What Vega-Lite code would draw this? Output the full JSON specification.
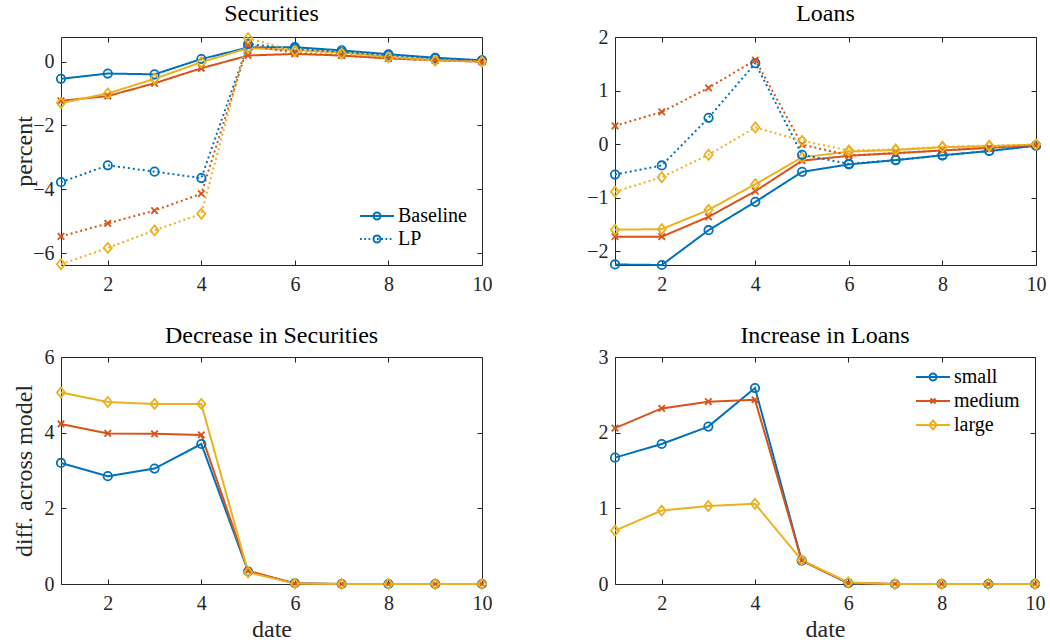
{
"$schema": "https://vega.github.io/schema/vega-lite/v6.json",
"background": "white",
"padding": {"left": 11, "top": 1, "right": 5, "bottom": 2},
"bounds": "flush",
"columns": 2,
"spacing": {"row": 92, "column": 133},
"data": {"values": [
{"p":"sec","m":"Baseline","s":"small","d":1,"v":-0.54},{"p":"sec","m":"Baseline","s":"small","d":2,"v":-0.375},{"p":"sec","m":"Baseline","s":"small","d":3,"v":-0.40},{"p":"sec","m":"Baseline","s":"small","d":4,"v":0.08},{"p":"sec","m":"Baseline","s":"small","d":5,"v":0.44},{"p":"sec","m":"Baseline","s":"small","d":6,"v":0.45},{"p":"sec","m":"Baseline","s":"small","d":7,"v":0.35},{"p":"sec","m":"Baseline","s":"small","d":8,"v":0.23},{"p":"sec","m":"Baseline","s":"small","d":9,"v":0.12},{"p":"sec","m":"Baseline","s":"small","d":10,"v":0.04},
{"p":"sec","m":"Baseline","s":"medium","d":1,"v":-1.23},{"p":"sec","m":"Baseline","s":"medium","d":2,"v":-1.08},{"p":"sec","m":"Baseline","s":"medium","d":3,"v":-0.68},{"p":"sec","m":"Baseline","s":"medium","d":4,"v":-0.21},{"p":"sec","m":"Baseline","s":"medium","d":5,"v":0.19},{"p":"sec","m":"Baseline","s":"medium","d":6,"v":0.24},{"p":"sec","m":"Baseline","s":"medium","d":7,"v":0.19},{"p":"sec","m":"Baseline","s":"medium","d":8,"v":0.10},{"p":"sec","m":"Baseline","s":"medium","d":9,"v":0.04},{"p":"sec","m":"Baseline","s":"medium","d":10,"v":0.0},
{"p":"sec","m":"Baseline","s":"large","d":1,"v":-1.30},{"p":"sec","m":"Baseline","s":"large","d":2,"v":-1.00},{"p":"sec","m":"Baseline","s":"large","d":3,"v":-0.54},{"p":"sec","m":"Baseline","s":"large","d":4,"v":-0.02},{"p":"sec","m":"Baseline","s":"large","d":5,"v":0.42},{"p":"sec","m":"Baseline","s":"large","d":6,"v":0.36},{"p":"sec","m":"Baseline","s":"large","d":7,"v":0.29},{"p":"sec","m":"Baseline","s":"large","d":8,"v":0.15},{"p":"sec","m":"Baseline","s":"large","d":9,"v":0.04},{"p":"sec","m":"Baseline","s":"large","d":10,"v":0.0},
{"p":"sec","m":"LP","s":"small","d":1,"v":-3.78},{"p":"sec","m":"LP","s":"small","d":2,"v":-3.25},{"p":"sec","m":"LP","s":"small","d":3,"v":-3.45},{"p":"sec","m":"LP","s":"small","d":4,"v":-3.65},{"p":"sec","m":"LP","s":"small","d":5,"v":0.55},{"p":"sec","m":"LP","s":"small","d":6,"v":0.40},{"p":"sec","m":"LP","s":"small","d":7,"v":0.30},{"p":"sec","m":"LP","s":"small","d":8,"v":0.20},{"p":"sec","m":"LP","s":"small","d":9,"v":0.10},{"p":"sec","m":"LP","s":"small","d":10,"v":0.03},
{"p":"sec","m":"LP","s":"medium","d":1,"v":-5.48},{"p":"sec","m":"LP","s":"medium","d":2,"v":-5.07},{"p":"sec","m":"LP","s":"medium","d":3,"v":-4.67},{"p":"sec","m":"LP","s":"medium","d":4,"v":-4.14},{"p":"sec","m":"LP","s":"medium","d":5,"v":0.52},{"p":"sec","m":"LP","s":"medium","d":6,"v":0.27},{"p":"sec","m":"LP","s":"medium","d":7,"v":0.19},{"p":"sec","m":"LP","s":"medium","d":8,"v":0.10},{"p":"sec","m":"LP","s":"medium","d":9,"v":0.04},{"p":"sec","m":"LP","s":"medium","d":10,"v":0.0},
{"p":"sec","m":"LP","s":"large","d":1,"v":-6.35},{"p":"sec","m":"LP","s":"large","d":2,"v":-5.84},{"p":"sec","m":"LP","s":"large","d":3,"v":-5.29},{"p":"sec","m":"LP","s":"large","d":4,"v":-4.77},{"p":"sec","m":"LP","s":"large","d":5,"v":0.73},{"p":"sec","m":"LP","s":"large","d":6,"v":0.33},{"p":"sec","m":"LP","s":"large","d":7,"v":0.25},{"p":"sec","m":"LP","s":"large","d":8,"v":0.13},{"p":"sec","m":"LP","s":"large","d":9,"v":0.03},{"p":"sec","m":"LP","s":"large","d":10,"v":0.0},
{"p":"loan","m":"Baseline","s":"small","d":1,"v":-2.25},{"p":"loan","m":"Baseline","s":"small","d":2,"v":-2.26},{"p":"loan","m":"Baseline","s":"small","d":3,"v":-1.61},{"p":"loan","m":"Baseline","s":"small","d":4,"v":-1.08},{"p":"loan","m":"Baseline","s":"small","d":5,"v":-0.52},{"p":"loan","m":"Baseline","s":"small","d":6,"v":-0.38},{"p":"loan","m":"Baseline","s":"small","d":7,"v":-0.30},{"p":"loan","m":"Baseline","s":"small","d":8,"v":-0.21},{"p":"loan","m":"Baseline","s":"small","d":9,"v":-0.13},{"p":"loan","m":"Baseline","s":"small","d":10,"v":-0.03},
{"p":"loan","m":"Baseline","s":"medium","d":1,"v":-1.73},{"p":"loan","m":"Baseline","s":"medium","d":2,"v":-1.73},{"p":"loan","m":"Baseline","s":"medium","d":3,"v":-1.36},{"p":"loan","m":"Baseline","s":"medium","d":4,"v":-0.88},{"p":"loan","m":"Baseline","s":"medium","d":5,"v":-0.31},{"p":"loan","m":"Baseline","s":"medium","d":6,"v":-0.22},{"p":"loan","m":"Baseline","s":"medium","d":7,"v":-0.17},{"p":"loan","m":"Baseline","s":"medium","d":8,"v":-0.12},{"p":"loan","m":"Baseline","s":"medium","d":9,"v":-0.07},{"p":"loan","m":"Baseline","s":"medium","d":10,"v":-0.02},
{"p":"loan","m":"Baseline","s":"large","d":1,"v":-1.60},{"p":"loan","m":"Baseline","s":"large","d":2,"v":-1.59},{"p":"loan","m":"Baseline","s":"large","d":3,"v":-1.23},{"p":"loan","m":"Baseline","s":"large","d":4,"v":-0.75},{"p":"loan","m":"Baseline","s":"large","d":5,"v":-0.25},{"p":"loan","m":"Baseline","s":"large","d":6,"v":-0.14},{"p":"loan","m":"Baseline","s":"large","d":7,"v":-0.11},{"p":"loan","m":"Baseline","s":"large","d":8,"v":-0.06},{"p":"loan","m":"Baseline","s":"large","d":9,"v":-0.04},{"p":"loan","m":"Baseline","s":"large","d":10,"v":-0.01},
{"p":"loan","m":"LP","s":"small","d":1,"v":-0.57},{"p":"loan","m":"LP","s":"small","d":2,"v":-0.40},{"p":"loan","m":"LP","s":"small","d":3,"v":0.49},{"p":"loan","m":"LP","s":"small","d":4,"v":1.51},{"p":"loan","m":"LP","s":"small","d":5,"v":-0.20},{"p":"loan","m":"LP","s":"small","d":6,"v":-0.37},{"p":"loan","m":"LP","s":"small","d":7,"v":-0.30},{"p":"loan","m":"LP","s":"small","d":8,"v":-0.21},{"p":"loan","m":"LP","s":"small","d":9,"v":-0.13},{"p":"loan","m":"LP","s":"small","d":10,"v":-0.03},
{"p":"loan","m":"LP","s":"medium","d":1,"v":0.34},{"p":"loan","m":"LP","s":"medium","d":2,"v":0.60},{"p":"loan","m":"LP","s":"medium","d":3,"v":1.05},{"p":"loan","m":"LP","s":"medium","d":4,"v":1.57},{"p":"loan","m":"LP","s":"medium","d":5,"v":-0.01},{"p":"loan","m":"LP","s":"medium","d":6,"v":-0.21},{"p":"loan","m":"LP","s":"medium","d":7,"v":-0.17},{"p":"loan","m":"LP","s":"medium","d":8,"v":-0.12},{"p":"loan","m":"LP","s":"medium","d":9,"v":-0.07},{"p":"loan","m":"LP","s":"medium","d":10,"v":-0.02},
{"p":"loan","m":"LP","s":"large","d":1,"v":-0.89},{"p":"loan","m":"LP","s":"large","d":2,"v":-0.62},{"p":"loan","m":"LP","s":"large","d":3,"v":-0.20},{"p":"loan","m":"LP","s":"large","d":4,"v":0.31},{"p":"loan","m":"LP","s":"large","d":5,"v":0.06},{"p":"loan","m":"LP","s":"large","d":6,"v":-0.12},{"p":"loan","m":"LP","s":"large","d":7,"v":-0.10},{"p":"loan","m":"LP","s":"large","d":8,"v":-0.05},{"p":"loan","m":"LP","s":"large","d":9,"v":-0.03},{"p":"loan","m":"LP","s":"large","d":10,"v":-0.01},
{"p":"dsec","m":"D","s":"small","d":1,"v":3.20},{"p":"dsec","m":"D","s":"small","d":2,"v":2.85},{"p":"dsec","m":"D","s":"small","d":3,"v":3.05},{"p":"dsec","m":"D","s":"small","d":4,"v":3.70},{"p":"dsec","m":"D","s":"small","d":5,"v":0.33},{"p":"dsec","m":"D","s":"small","d":6,"v":0.02},{"p":"dsec","m":"D","s":"small","d":7,"v":0},{"p":"dsec","m":"D","s":"small","d":8,"v":0},{"p":"dsec","m":"D","s":"small","d":9,"v":0},{"p":"dsec","m":"D","s":"small","d":10,"v":0},
{"p":"dsec","m":"D","s":"medium","d":1,"v":4.23},{"p":"dsec","m":"D","s":"medium","d":2,"v":3.98},{"p":"dsec","m":"D","s":"medium","d":3,"v":3.97},{"p":"dsec","m":"D","s":"medium","d":4,"v":3.94},{"p":"dsec","m":"D","s":"medium","d":5,"v":0.35},{"p":"dsec","m":"D","s":"medium","d":6,"v":0.01},{"p":"dsec","m":"D","s":"medium","d":7,"v":0},{"p":"dsec","m":"D","s":"medium","d":8,"v":0},{"p":"dsec","m":"D","s":"medium","d":9,"v":0},{"p":"dsec","m":"D","s":"medium","d":10,"v":0},
{"p":"dsec","m":"D","s":"large","d":1,"v":5.06},{"p":"dsec","m":"D","s":"large","d":2,"v":4.81},{"p":"dsec","m":"D","s":"large","d":3,"v":4.76},{"p":"dsec","m":"D","s":"large","d":4,"v":4.76},{"p":"dsec","m":"D","s":"large","d":5,"v":0.31},{"p":"dsec","m":"D","s":"large","d":6,"v":0.01},{"p":"dsec","m":"D","s":"large","d":7,"v":0},{"p":"dsec","m":"D","s":"large","d":8,"v":0},{"p":"dsec","m":"D","s":"large","d":9,"v":0},{"p":"dsec","m":"D","s":"large","d":10,"v":0},
{"p":"iloan","m":"D","s":"small","d":1,"v":1.67},{"p":"iloan","m":"D","s":"small","d":2,"v":1.85},{"p":"iloan","m":"D","s":"small","d":3,"v":2.08},{"p":"iloan","m":"D","s":"small","d":4,"v":2.59},{"p":"iloan","m":"D","s":"small","d":5,"v":0.31},{"p":"iloan","m":"D","s":"small","d":6,"v":0.01},{"p":"iloan","m":"D","s":"small","d":7,"v":0},{"p":"iloan","m":"D","s":"small","d":8,"v":0},{"p":"iloan","m":"D","s":"small","d":9,"v":0},{"p":"iloan","m":"D","s":"small","d":10,"v":0},
{"p":"iloan","m":"D","s":"medium","d":1,"v":2.06},{"p":"iloan","m":"D","s":"medium","d":2,"v":2.32},{"p":"iloan","m":"D","s":"medium","d":3,"v":2.41},{"p":"iloan","m":"D","s":"medium","d":4,"v":2.435},{"p":"iloan","m":"D","s":"medium","d":5,"v":0.31},{"p":"iloan","m":"D","s":"medium","d":6,"v":0.01},{"p":"iloan","m":"D","s":"medium","d":7,"v":0},{"p":"iloan","m":"D","s":"medium","d":8,"v":0},{"p":"iloan","m":"D","s":"medium","d":9,"v":0},{"p":"iloan","m":"D","s":"medium","d":10,"v":0},
{"p":"iloan","m":"D","s":"large","d":1,"v":0.705},{"p":"iloan","m":"D","s":"large","d":2,"v":0.97},{"p":"iloan","m":"D","s":"large","d":3,"v":1.03},{"p":"iloan","m":"D","s":"large","d":4,"v":1.06},{"p":"iloan","m":"D","s":"large","d":5,"v":0.315},{"p":"iloan","m":"D","s":"large","d":6,"v":0.02},{"p":"iloan","m":"D","s":"large","d":7,"v":0},{"p":"iloan","m":"D","s":"large","d":8,"v":0},{"p":"iloan","m":"D","s":"large","d":9,"v":0},{"p":"iloan","m":"D","s":"large","d":10,"v":0}
]},
"concat": [
{
 "title": {"text": "Securities", "offset": 4},
 "width": 421, "height": 228,
 "transform": [{"filter": "datum.p == 'sec'"}],
 "layer": [
  {"layer": [
   {"mark": {"type": "line", "strokeWidth": 2},
    "encoding": {
     "x": {"field": "d", "type": "quantitative", "scale": {"domain": [1, 10], "nice": false, "zero": false}, "axis": {"values": [2, 4, 6, 8, 10], "format": "d", "title": null}},
     "y": {"field": "v", "type": "quantitative", "scale": {"domain": [-6.375, 0.77], "nice": false, "zero": false}, "axis": {"values": [-6, -4, -2, 0], "format": "d", "title": "percent", "titleX": -25}},
     "color": {"field": "s", "type": "nominal", "scale": {"domain": ["small", "medium", "large"], "range": ["#0072BD", "#D95319", "#EDB120"]}, "legend": null},
     "strokeDash": {"field": "m", "type": "nominal", "scale": {"domain": ["Baseline", "LP"], "range": [[1, 0], [2, 3]]}, "legend": null}
    }},
   {"mark": {"type": "point", "filled": false, "strokeWidth": 1.8, "size": 225, "opacity": 1},
    "encoding": {
     "x": {"field": "d", "type": "quantitative", "scale": {"domain": [1, 10], "nice": false, "zero": false}},
     "y": {"field": "v", "type": "quantitative", "scale": {"domain": [-6.375, 0.77], "nice": false, "zero": false}},
     "color": {"field": "s", "type": "nominal", "scale": {"domain": ["small", "medium", "large"], "range": ["#0072BD", "#D95319", "#EDB120"]}, "legend": null},
     "shape": {"field": "s", "type": "nominal", "scale": {"domain": ["small", "medium", "large"], "range": ["M0.56,0A0.56,0.56,0,1,1,-0.56,0A0.56,0.56,0,1,1,0.56,0Z", "M-0.43,-0.43L0.43,0.43M-0.43,0.43L0.43,-0.43", "M0,-0.67L0.55,0L0,0.67L-0.55,0Z"]}, "legend": null}
    }}
  ]},
  {"transform": [{"filter": "datum.d > 100"}],
   "mark": {"type": "point", "filled": false, "color": "#0072BD"},
   "encoding": {
    "x": {"field": "d", "type": "quantitative", "scale": {"domain": [1, 10], "nice": false, "zero": false}, "axis": {"orient": "top", "values": [2, 4, 6, 8, 10], "labels": false, "title": null}},
    "y": {"field": "v", "type": "quantitative", "scale": {"domain": [-6.375, 0.77], "nice": false, "zero": false}, "axis": {"orient": "right", "values": [-6, -4, -2, 0], "labels": false, "title": null}},
    "shape": {"field": "m", "type": "nominal", "scale": {"domain": ["Baseline", "LP"], "range": ["M-3.4,0L3.4,0M0.7,0A0.7,0.7,0,1,1,-0.7,0A0.7,0.7,0,1,1,0.7,0Z", "M-3.4,0L-3.05,0M-2.55,0L-2.2,0M-1.7,0L-1.35,0M-0.85,0L-0.5,0M0,0L0.35,0M0.85,0L1.2,0M1.7,0L2.05,0M2.55,0L2.9,0M0.7,0A0.7,0.7,0,1,1,-0.7,0A0.7,0.7,0,1,1,0.7,0Z"]},
     "legend": {"title": null, "orient": "none", "legendX": 306, "legendY": 169, "symbolSize": 100, "symbolStrokeWidth": 2, "symbolStrokeColor": "#0072BD", "symbolFillColor": "transparent", "symbolOpacity": 1, "labelOffset": 11, "rowPadding": 3}}
   }}
 ],
 "resolve": {"scale": {"x": "independent", "y": "independent", "shape": "independent", "color": "independent", "strokeDash": "independent"}}
},
{
 "title": {"text": "Loans", "offset": 1},
 "width": 421, "height": 228,
 "transform": [{"filter": "datum.p == 'loan'"}],
 "layer": [
  {"layer": [
   {"mark": {"type": "line", "strokeWidth": 2},
    "encoding": {
     "x": {"field": "d", "type": "quantitative", "scale": {"domain": [1, 10], "nice": false, "zero": false}, "axis": {"values": [2, 4, 6, 8, 10], "format": "d", "title": null}},
     "y": {"field": "v", "type": "quantitative", "scale": {"domain": [-2.26, 2], "nice": false, "zero": false}, "axis": {"values": [-2, -1, 0, 1, 2], "format": "d", "title": null}},
     "color": {"field": "s", "type": "nominal", "scale": {"domain": ["small", "medium", "large"], "range": ["#0072BD", "#D95319", "#EDB120"]}, "legend": null},
     "strokeDash": {"field": "m", "type": "nominal", "scale": {"domain": ["Baseline", "LP"], "range": [[1, 0], [2, 3]]}, "legend": null}
    }},
   {"mark": {"type": "point", "filled": false, "strokeWidth": 1.8, "size": 225, "opacity": 1},
    "encoding": {
     "x": {"field": "d", "type": "quantitative", "scale": {"domain": [1, 10], "nice": false, "zero": false}},
     "y": {"field": "v", "type": "quantitative", "scale": {"domain": [-2.26, 2], "nice": false, "zero": false}},
     "color": {"field": "s", "type": "nominal", "scale": {"domain": ["small", "medium", "large"], "range": ["#0072BD", "#D95319", "#EDB120"]}, "legend": null},
     "shape": {"field": "s", "type": "nominal", "scale": {"domain": ["small", "medium", "large"], "range": ["M0.56,0A0.56,0.56,0,1,1,-0.56,0A0.56,0.56,0,1,1,0.56,0Z", "M-0.43,-0.43L0.43,0.43M-0.43,0.43L0.43,-0.43", "M0,-0.67L0.55,0L0,0.67L-0.55,0Z"]}, "legend": null}
    }}
  ]},
  {"transform": [{"filter": "datum.d > 100"}],
   "mark": {"type": "point", "filled": false},
   "encoding": {
    "x": {"field": "d", "type": "quantitative", "scale": {"domain": [1, 10], "nice": false, "zero": false}, "axis": {"orient": "top", "values": [2, 4, 6, 8, 10], "labels": false, "title": null}},
    "y": {"field": "v", "type": "quantitative", "scale": {"domain": [-2.26, 2], "nice": false, "zero": false}, "axis": {"orient": "right", "values": [-2, -1, 0, 1, 2], "labels": false, "title": null}}
   }}
 ],
 "resolve": {"scale": {"x": "independent", "y": "independent", "shape": "independent", "color": "independent", "strokeDash": "independent"}}
},
{
 "title": {"text": "Decrease in Securities", "offset": -1},
 "width": 421, "height": 227,
 "transform": [{"filter": "datum.p == 'dsec'"}],
 "layer": [
  {"layer": [
   {"mark": {"type": "line", "strokeWidth": 2},
    "encoding": {
     "x": {"field": "d", "type": "quantitative", "scale": {"domain": [1, 10], "nice": false, "zero": false}, "axis": {"values": [2, 4, 6, 8, 10], "format": "d", "title": "date"}},
     "y": {"field": "v", "type": "quantitative", "scale": {"domain": [0, 6], "nice": false, "zero": false}, "axis": {"values": [0, 2, 4, 6], "format": "d", "title": "diff. across model", "titleX": -25}},
     "color": {"field": "s", "type": "nominal", "scale": {"domain": ["small", "medium", "large"], "range": ["#0072BD", "#D95319", "#EDB120"]}, "legend": null}
    }},
   {"mark": {"type": "point", "filled": false, "strokeWidth": 1.8, "size": 225, "opacity": 1},
    "encoding": {
     "x": {"field": "d", "type": "quantitative", "scale": {"domain": [1, 10], "nice": false, "zero": false}},
     "y": {"field": "v", "type": "quantitative", "scale": {"domain": [0, 6], "nice": false, "zero": false}},
     "color": {"field": "s", "type": "nominal", "scale": {"domain": ["small", "medium", "large"], "range": ["#0072BD", "#D95319", "#EDB120"]}, "legend": null},
     "shape": {"field": "s", "type": "nominal", "scale": {"domain": ["small", "medium", "large"], "range": ["M0.56,0A0.56,0.56,0,1,1,-0.56,0A0.56,0.56,0,1,1,0.56,0Z", "M-0.43,-0.43L0.43,0.43M-0.43,0.43L0.43,-0.43", "M0,-0.67L0.55,0L0,0.67L-0.55,0Z"]}, "legend": null}
    }}
  ]},
  {"transform": [{"filter": "datum.d > 100"}],
   "mark": {"type": "point", "filled": false},
   "encoding": {
    "x": {"field": "d", "type": "quantitative", "scale": {"domain": [1, 10], "nice": false, "zero": false}, "axis": {"orient": "top", "values": [2, 4, 6, 8, 10], "labels": false, "title": null}},
    "y": {"field": "v", "type": "quantitative", "scale": {"domain": [0, 6], "nice": false, "zero": false}, "axis": {"orient": "right", "values": [0, 2, 4, 6], "labels": false, "title": null}}
   }}
 ],
 "resolve": {"scale": {"x": "independent", "y": "independent", "shape": "independent", "color": "independent"}}
},
{
 "title": {"text": "Increase in Loans", "offset": -1},
 "width": 420, "height": 227,
 "transform": [{"filter": "datum.p == 'iloan'"}],
 "layer": [
  {"layer": [
   {"mark": {"type": "line", "strokeWidth": 2},
    "encoding": {
     "x": {"field": "d", "type": "quantitative", "scale": {"domain": [1, 10], "nice": false, "zero": false}, "axis": {"values": [2, 4, 6, 8, 10], "format": "d", "title": "date"}},
     "y": {"field": "v", "type": "quantitative", "scale": {"domain": [0, 3], "nice": false, "zero": false}, "axis": {"values": [0, 1, 2, 3], "format": "d", "title": null}},
     "color": {"field": "s", "type": "nominal", "scale": {"domain": ["small", "medium", "large"], "range": ["#0072BD", "#D95319", "#EDB120"]}, "legend": null}
    }},
   {"mark": {"type": "point", "filled": false, "strokeWidth": 1.8, "size": 225, "opacity": 1},
    "encoding": {
     "x": {"field": "d", "type": "quantitative", "scale": {"domain": [1, 10], "nice": false, "zero": false}},
     "y": {"field": "v", "type": "quantitative", "scale": {"domain": [0, 3], "nice": false, "zero": false}},
     "color": {"field": "s", "type": "nominal", "scale": {"domain": ["small", "medium", "large"], "range": ["#0072BD", "#D95319", "#EDB120"]}, "legend": null},
     "shape": {"field": "s", "type": "nominal", "scale": {"domain": ["small", "medium", "large"], "range": ["M0.56,0A0.56,0.56,0,1,1,-0.56,0A0.56,0.56,0,1,1,0.56,0Z", "M-0.43,-0.43L0.43,0.43M-0.43,0.43L0.43,-0.43", "M0,-0.67L0.55,0L0,0.67L-0.55,0Z"]}, "legend": null}
    }}
  ]},
  {"transform": [{"filter": "datum.d > 100"}],
   "mark": {"type": "point", "filled": false},
   "encoding": {
    "x": {"field": "d", "type": "quantitative", "scale": {"domain": [1, 10], "nice": false, "zero": false}, "axis": {"orient": "top", "values": [2, 4, 6, 8, 10], "labels": false, "title": null}},
    "y": {"field": "v", "type": "quantitative", "scale": {"domain": [0, 3], "nice": false, "zero": false}, "axis": {"orient": "right", "values": [0, 1, 2, 3], "labels": false, "title": null}},
    "color": {"field": "s", "type": "nominal", "scale": {"domain": ["small", "medium", "large"], "range": ["#0072BD", "#D95319", "#EDB120"]},
     "legend": {"title": null, "orient": "none", "legendX": 308, "legendY": 10, "symbolSize": 100, "symbolStrokeWidth": 2, "symbolFillColor": "transparent", "symbolOpacity": 1, "labelOffset": 11, "rowPadding": 4}},
    "shape": {"field": "s", "type": "nominal", "scale": {"domain": ["small", "medium", "large"], "range": ["M-3.4,0L3.4,0M0.7,0A0.7,0.7,0,1,1,-0.7,0A0.7,0.7,0,1,1,0.7,0Z", "M-3.4,0L3.4,0M-0.5,-0.5L0.5,0.5M-0.5,0.5L0.5,-0.5", "M-3.4,0L3.4,0M0,-0.9L0.75,0L0,0.9L-0.75,0Z"]},
     "legend": {"title": null, "orient": "none", "legendX": 308, "legendY": 10, "symbolSize": 100, "symbolStrokeWidth": 2, "symbolFillColor": "transparent", "symbolOpacity": 1, "labelOffset": 11, "rowPadding": 4}}
   }}
 ],
 "resolve": {"scale": {"x": "independent", "y": "independent", "shape": "independent", "color": "independent"}}
}
],
"resolve": {"scale": {"x": "independent", "y": "independent", "color": "independent", "shape": "independent", "strokeDash": "independent"}, "legend": {"color": "independent", "shape": "independent", "strokeDash": "independent"}},
"config": {
 "font": "Liberation Serif",
 "view": {"stroke": "#262626", "strokeWidth": 1},
 "axis": {"domain": false, "grid": false, "tickSize": -5, "tickColor": "#262626", "tickWidth": 1, "labelColor": "#262626", "labelFontSize": 20, "labelFont": "Liberation Serif", "labelFlush": false, "titleFont": "Liberation Serif", "titleFontSize": 24, "titleFontWeight": "normal", "titleColor": "#262626", "titlePadding": 4},
 "axisX": {"labelPadding": 14},
 "axisY": {"labelPadding": 12},
 "legend": {"labelFont": "Liberation Serif", "labelFontSize": 20, "labelColor": "#000000"},
 "title": {"font": "Liberation Serif", "fontSize": 24, "fontWeight": "normal", "color": "#000000", "baseline": "alphabetic"}
}
}
